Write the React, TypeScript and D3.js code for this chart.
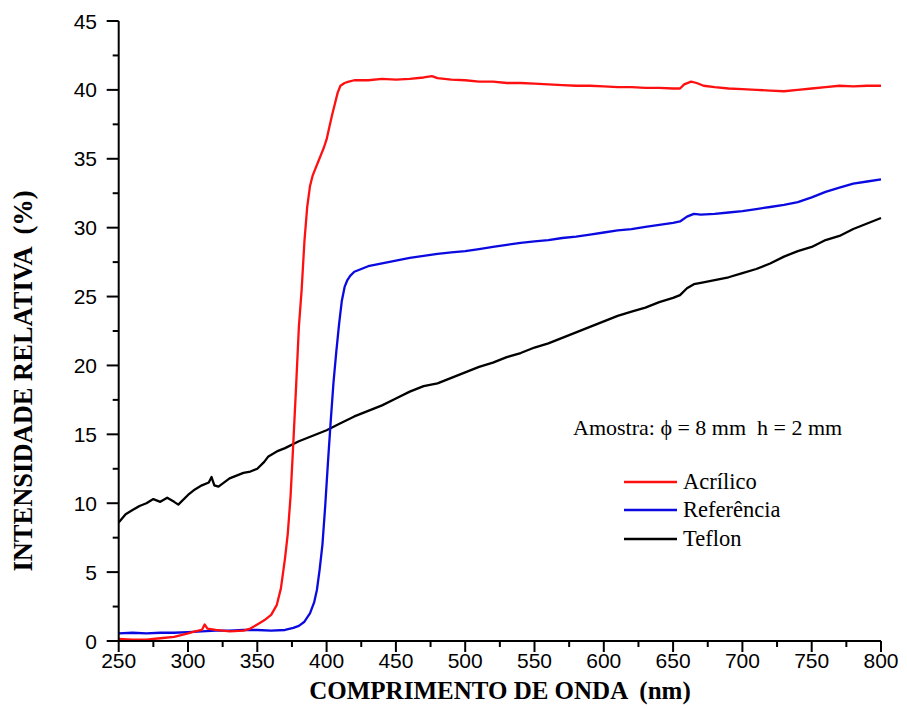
import React from "react";
import * as d3 from "d3";

const W = 907;
const H = 709;

const acrilicoX = [250,260,270,280,290,300,305,310,312,314,320,330,340,345,350,355,360,364,367,370,372,374,376,378,380,382,384,386,388,390,392,394,396,398,400,402,404,406,408,410,413,416,420,430,440,450,460,470,476,480,490,500,510,520,530,540,550,560,570,580,590,600,610,620,630,640,650,655,658,663,667,672,680,690,700,710,720,730,740,750,760,770,780,790,800];
const acrilicoY = [0.15,0.1,0.1,0.2,0.3,0.55,0.7,0.8,1.2,0.9,0.8,0.7,0.75,0.9,1.2,1.5,1.9,2.6,3.8,6.0,7.8,10.5,14.4,18.5,22.8,25.5,29.0,31.5,33.0,33.8,34.3,34.8,35.3,35.8,36.4,37.3,38.2,39.0,39.8,40.3,40.5,40.6,40.7,40.7,40.8,40.75,40.8,40.9,41.0,40.85,40.75,40.7,40.6,40.6,40.5,40.5,40.45,40.4,40.35,40.3,40.3,40.25,40.2,40.2,40.15,40.15,40.1,40.1,40.4,40.6,40.5,40.3,40.2,40.1,40.05,40.0,39.95,39.9,40.0,40.1,40.2,40.3,40.25,40.3,40.3];

const referenciaX = [250,260,270,280,290,300,310,320,330,340,350,360,370,376,380,384,388,391,393,395,397,399,401,403,405,407,409,411,413,415,417,420,425,430,440,450,460,470,480,490,500,510,520,530,540,550,560,570,580,590,600,610,620,630,640,650,655,660,665,670,680,690,700,710,720,730,740,750,760,770,780,790,800];
const referenciaY = [0.55,0.6,0.55,0.6,0.6,0.65,0.7,0.75,0.75,0.8,0.8,0.75,0.8,0.95,1.1,1.4,2.0,2.8,3.7,5.2,7.0,9.8,13.0,16.0,18.8,21.0,23.0,24.7,25.7,26.2,26.5,26.8,27.0,27.2,27.4,27.6,27.8,27.95,28.1,28.2,28.3,28.45,28.6,28.75,28.9,29.0,29.1,29.25,29.35,29.5,29.65,29.8,29.9,30.05,30.2,30.35,30.45,30.8,31.0,30.95,31.0,31.1,31.2,31.35,31.5,31.65,31.85,32.2,32.6,32.9,33.2,33.35,33.5];

const teflonX = [250,255,260,265,270,275,280,285,290,293,300,305,310,315,317,319,322,330,340,345,350,355,358,365,370,380,390,400,410,420,430,440,450,460,470,480,490,500,510,520,530,540,550,560,570,580,590,600,610,620,630,640,650,655,660,665,670,680,690,700,710,720,730,740,750,760,770,780,790,800];
const teflonY = [8.6,9.2,9.5,9.8,10.0,10.3,10.1,10.4,10.1,9.9,10.6,11.0,11.3,11.5,11.9,11.3,11.2,11.8,12.2,12.3,12.5,13.0,13.4,13.8,14.0,14.5,14.9,15.3,15.8,16.3,16.7,17.1,17.6,18.1,18.5,18.7,19.1,19.5,19.9,20.2,20.6,20.9,21.3,21.6,22.0,22.4,22.8,23.2,23.6,23.9,24.2,24.6,24.9,25.1,25.6,25.9,26.0,26.2,26.4,26.7,27.0,27.4,27.9,28.3,28.6,29.1,29.4,29.9,30.3,30.7];

const seriesNames = ["Acrílico", "Referência", "Teflon"];
const seriesColors = ["#ff1010", "#0a0ae0", "#000000"];

const xTicks = [250,300,350,400,450,500,550,600,650,700,750,800];
const yTicks = [0,5,10,15,20,25,30,35,40,45];

const xTitle = "COMPRIMENTO DE ONDA  (nm)";
const yTitle = "INTENSIDADE RELATIVA  (%)";
const annotation = "Amostra: \u03d5 = 8 mm  h = 2 mm";

export default function App() {
  const x = d3.scaleLinear().domain([250, 800]).range([118.7, 881]);
  const y = d3.scaleLinear().domain([0, 45]).range([641, 21]);

  const xs = [acrilicoX, referenciaX, teflonX];
  const ys = [acrilicoY, referenciaY, teflonY];
  const line = d3.line<[number, number]>().x(d => x(d[0])).y(d => y(d[1]));

  const xMinor = d3.range(275, 800, 50);
  const yMinor = d3.range(2.5, 45, 5);

  const sans = "'Liberation Sans', Arial, sans-serif";
  const serif = "'Liberation Serif', 'Times New Roman', serif";
  const pre = { whiteSpace: "pre" as const };

  return (
    <svg width={W} height={H} style={{ position: "absolute", left: 0, top: 0, background: "#fff" }}>
      <rect width={W} height={H} fill="#fff" />
      {[2, 1, 0].map(i => (
        <path
          key={i}
          d={line(xs[i].map((v, j) => [v, ys[i][j]] as [number, number])) || ""}
          fill="none"
          stroke={seriesColors[i]}
          strokeWidth={2.3}
          strokeLinejoin="round"
        />
      ))}
      <line x1={x(250)} x2={x(800)} y1={y(0)} y2={y(0)} stroke="#000" strokeWidth={2} />
      <line x1={x(250)} x2={x(250)} y1={y(0)} y2={y(45)} stroke="#000" strokeWidth={2} />
      {xTicks.map(t => (
        <g key={"xt" + t}>
          <line x1={x(t)} x2={x(t)} y1={y(0)} y2={y(0) + 11} stroke="#000" strokeWidth={2} />
          <text x={x(t)} y={668} textAnchor="middle" fontFamily={sans} fontSize={21} fill="#000">{t}</text>
        </g>
      ))}
      {xMinor.map(t => (
        <line key={"xm" + t} x1={x(t)} x2={x(t)} y1={y(0)} y2={y(0) + 6} stroke="#000" strokeWidth={2} />
      ))}
      {yTicks.map(t => (
        <g key={"yt" + t}>
          <line x1={x(250) - 12} x2={x(250)} y1={y(t)} y2={y(t)} stroke="#000" strokeWidth={2} />
          <text x={97} y={y(t)} dy="0.36em" textAnchor="end" fontFamily={sans} fontSize={21} fill="#000">{t}</text>
        </g>
      ))}
      {yMinor.map(t => (
        <line key={"ym" + t} x1={x(250) - 6} x2={x(250)} y1={y(t)} y2={y(t)} stroke="#000" strokeWidth={2} />
      ))}
      <text x={500} y={699} textAnchor="middle" fontFamily={serif} fontWeight="bold" fontSize={25} fill="#000" style={pre}>{xTitle}</text>
      <text transform="translate(32,381) rotate(-90)" textAnchor="middle" fontFamily={serif} fontWeight="bold" fontSize={26.5} fill="#000" style={pre}>{yTitle}</text>
      <text x={573} y={435} fontFamily={serif} fontSize={22} fill="#000" style={pre}>{annotation}</text>
      {seriesNames.map((n, i) => {
        const ly = [482, 510, 539][i];
        return (
          <g key={n}>
            <line x1={624} x2={677} y1={ly} y2={ly} stroke={seriesColors[i]} strokeWidth={2.3} />
            <text x={683} y={ly} dy="0.33em" fontFamily={serif} fontSize={22.5} fill="#000">{n}</text>
          </g>
        );
      })}
    </svg>
  );
}
